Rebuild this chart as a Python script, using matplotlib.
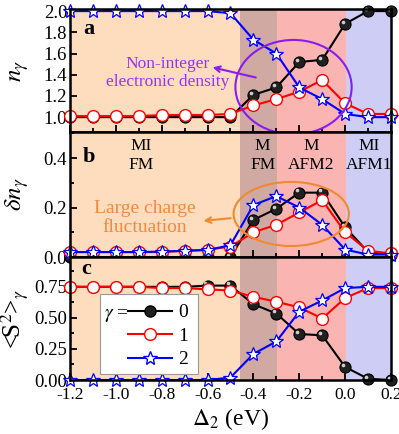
import matplotlib
matplotlib.use('Agg')
import matplotlib.pyplot as plt
from matplotlib.patches import Ellipse, Rectangle
from matplotlib.lines import Line2D
from matplotlib.transforms import ScaledTranslation
from matplotlib.ticker import MultipleLocator

plt.rcParams['font.family'] = ['Liberation Serif', 'DejaVu Serif']
plt.rcParams['mathtext.fontset'] = 'stix'

# Data
delta = [-1.2, -1.1, -1.0, -0.9, -0.8, -0.7, -0.6, -0.5, -0.4, -0.3, -0.2, -0.1, 0.0, 0.1, 0.2]

n0 = [1.00, 1.00, 1.00, 1.00, 1.00, 1.00, 1.00, 1.00, 1.21, 1.28, 1.52, 1.54, 1.88, 2.00, 2.00]
n1 = [1.01, 1.01, 1.01, 1.01, 1.02, 1.02, 1.02, 1.03, 1.11, 1.17, 1.24, 1.35, 1.13, 1.03, 1.03]
n2 = [2.00, 2.00, 2.00, 2.00, 2.00, 2.00, 2.00, 1.98, 1.73, 1.60, 1.28, 1.17, 1.03, 1.00, 1.00]

dn0 = [0.00, 0.00, 0.00, 0.00, 0.00, 0.00, 0.00, 0.00, 0.15, 0.195, 0.26, 0.26, 0.12, 0.02, 0.01]
dn1 = [0.02, 0.02, 0.02, 0.02, 0.02, 0.025, 0.03, 0.042, 0.10, 0.13, 0.18, 0.23, 0.10, 0.025, 0.015]
dn2 = [0.02, 0.02, 0.02, 0.02, 0.022, 0.025, 0.028, 0.048, 0.21, 0.246, 0.20, 0.13, 0.03, 0.01, 0.01]

s0 = [0.75, 0.75, 0.75, 0.75, 0.75, 0.75, 0.76, 0.76, 0.61, 0.535, 0.37, 0.36, 0.105, 0.01, 0.00]
s1 = [0.75, 0.75, 0.75, 0.75, 0.74, 0.74, 0.73, 0.72, 0.67, 0.63, 0.585, 0.495, 0.66, 0.74, 0.74]
s2 = [0.00, 0.00, 0.00, 0.00, 0.00, 0.00, 0.00, 0.02, 0.21, 0.31, 0.55, 0.64, 0.74, 0.75, 0.75]

# phase regions (edges) and colours
region_edges = [-1.2, -0.46, -0.295, 0.005, 0.2]
region_colors = ['#FDDDBE', '#CFA9A2', '#FAB5B3', '#CDCDF5']
region_names = ['MI\nFM', 'M\nFM', 'M\nAFM2', 'MI\nAFM1']
region_label_x = [-0.89, -0.36, -0.15, 0.105]

fig = plt.figure(figsize=(3.99, 4.34), dpi=100)
left, width = 0.1754, 0.8045
ax_a = fig.add_axes([left, 0.6959, width, 0.2834])
ax_b = fig.add_axes([left, 0.4078, width, 0.2880])
ax_c = fig.add_axes([left, 0.1244, width, 0.2834])
axes = [ax_a, ax_b, ax_c]

panels = [(ax_a, n0, n1, n2), (ax_b, dn0, dn1, dn2), (ax_c, s0, s1, s2)]

for ax, y0, y1, y2 in panels:
    for i in range(4):
        ax.axvspan(region_edges[i], region_edges[i + 1], color=region_colors[i], lw=0, zorder=0)
    ax.plot(delta, y0, '-o', color='black', lw=1.5, ms=8, mfc='#202020', mec='black',
            mew=0.8, clip_on=False, zorder=3)
    # small highlight so the black markers look like balls
    hl = ax.transData + ScaledTranslation(-1.6 / 72, 1.6 / 72, fig.dpi_scale_trans)
    ax.plot(delta, y0, 'o', ms=2.6, color='#cfcfcf', mec='none', transform=hl,
            clip_on=False, zorder=3.5)
    ax.plot(delta, y1, '-o', color='red', lw=1.5, ms=8.5, mfc='white', mec='red',
            mew=1.0, clip_on=False, zorder=4)
    ax.plot(delta, y2, '-*', color='blue', lw=1.5, ms=10.5, mfc='white', mec='blue',
            mew=0.9, clip_on=False, zorder=5)
    ax.set_xlim(-1.2, 0.2)
    ax.xaxis.set_major_locator(MultipleLocator(0.2))
    ax.xaxis.set_minor_locator(MultipleLocator(0.1))
    ax.tick_params(which='both', direction='in', top=False, right=False,
                   labelsize=13.5, width=1.3, pad=2)
    ax.tick_params(which='major', length=5)
    ax.tick_params(which='minor', length=3)
    for sp in ax.spines.values():
        sp.set_linewidth(1.8)
        sp.set_zorder(6)

for ax in (ax_a, ax_b):
    ax.tick_params(labelbottom=False)

# panel a
ax_a.set_ylim(0.86, 2.02)
ax_a.set_yticks([1.0, 1.2, 1.4, 1.6, 1.8, 2.0])
ax_a.set_yticklabels(['1.0', '1.2', '1.4', '1.6', '1.8', '2.0'])
ax_a.set_ylabel(r'$n_{\gamma}$', fontsize=18)
ax_a.add_patch(Ellipse((-0.225, 1.283), 0.507, 0.89, fill=False, ec='#8A1CF0', lw=1.5, zorder=6))
ax_a.annotate('', xy=(-0.59, 1.475), xytext=(-0.378, 1.368),
              arrowprops=dict(arrowstyle='->', color='#8A1CF0', lw=1.5), zorder=6)
ax_a.text(-0.776, 1.42, 'Non-integer\nelectronic density', color='#9933EE', fontsize=12.5,
          ha='center', va='center', linespacing=1.15)
ax_a.text(0.04, 0.84, 'a', transform=ax_a.transAxes, fontsize=16, fontweight='bold',
          ha='left', va='center')

# panel b
ax_b.set_ylim(0, 0.505)
ax_b.set_yticks([0.0, 0.2, 0.4])
ax_b.set_yticklabels(['0.0', '0.2', '0.4'])
ax_b.yaxis.set_minor_locator(MultipleLocator(0.1))
ax_b.set_ylabel(r'$\delta n_{\gamma}$', fontsize=18)
ax_b.add_patch(Ellipse((-0.235, 0.174), 0.503, 0.259, fill=False, ec='#F08A30', lw=1.5, zorder=6))
ax_b.annotate('', xy=(-0.63, 0.145), xytext=(-0.487, 0.158),
              arrowprops=dict(arrowstyle='->', color='#F08A30', lw=1.5), zorder=6)
ax_b.text(-0.872, 0.158, 'Large charge\nfluctuation', color='#F08A40', fontsize=14,
          ha='center', va='center', linespacing=1.1)
ax_b.text(0.04, 0.8, 'b', transform=ax_b.transAxes, fontsize=16, fontweight='bold',
          ha='left', va='center')
for name, xl in zip(region_names, region_label_x):
    ax_b.text(xl, 0.41, name, fontsize=12.5, ha='center', va='center', linespacing=1.25)

# panel c
ax_c.set_ylim(0, 0.99)
ax_c.set_yticks([0.0, 0.25, 0.5, 0.75])
ax_c.set_yticklabels(['0.00', '0.25', '0.50', '0.75'])
ax_c.yaxis.set_minor_locator(MultipleLocator(0.125))
ax_c.set_ylabel(r'<S$^2$>$_{\gamma}$', fontsize=18)
ax_c.set_xticks([-1.2, -1.0, -0.8, -0.6, -0.4, -0.2, 0.0, 0.2])
ax_c.set_xticklabels(['-1.2', '-1.0', '-0.8', '-0.6', '-0.4', '-0.2', '0.0', '0.2'])
ax_c.tick_params(axis='x', pad=5, labelsize=12.5)
ax_c.set_xlabel(r'$\mathit{\Delta}_2$ (eV)', fontsize=17, labelpad=2)
ax_c.text(0.035, 0.9, 'c', transform=ax_c.transAxes, fontsize=16, fontweight='bold',
          ha='left', va='center')

# legend
ax_c.add_patch(Rectangle((0.093, 0.049), 0.306, 0.651, transform=ax_c.transAxes,
                         fc='white', ec='#999999', lw=0.8, zorder=7))
handles = [Line2D([], [], color='black', lw=1.5, marker='o', ms=8, mfc='#202020', mec='black'),
           Line2D([], [], color='red', lw=1.5, marker='o', ms=8.5, mfc='white', mec='red'),
           Line2D([], [], color='blue', lw=1.5, marker='*', ms=10.5, mfc='white', mec='blue')]
leg = ax_c.legend(handles, ['0', '1', '2'], loc='center left', bbox_to_anchor=(0.18, 0.357),
                  frameon=False, fontsize=14, handlelength=2.3, handletextpad=0.3,
                  labelspacing=0.3, borderpad=0, borderaxespad=0)
leg.set_zorder(8)

for ax in axes:
    ax.yaxis.set_label_coords(-0.12, 0.5)

# put "gamma =" on the same line as the first legend entry
fig.canvas.draw()
t0 = leg.get_texts()[0]
bb = t0.get_window_extent()
yc = ax_c.transAxes.inverted().transform((0, (bb.y0 + bb.y1) / 2))[1]
ax_c.text(0.105, yc, r'$\gamma$ =', transform=ax_c.transAxes, fontsize=14,
          ha='left', va='center_baseline', zorder=8)

plt.savefig('out.png', dpi=100)
